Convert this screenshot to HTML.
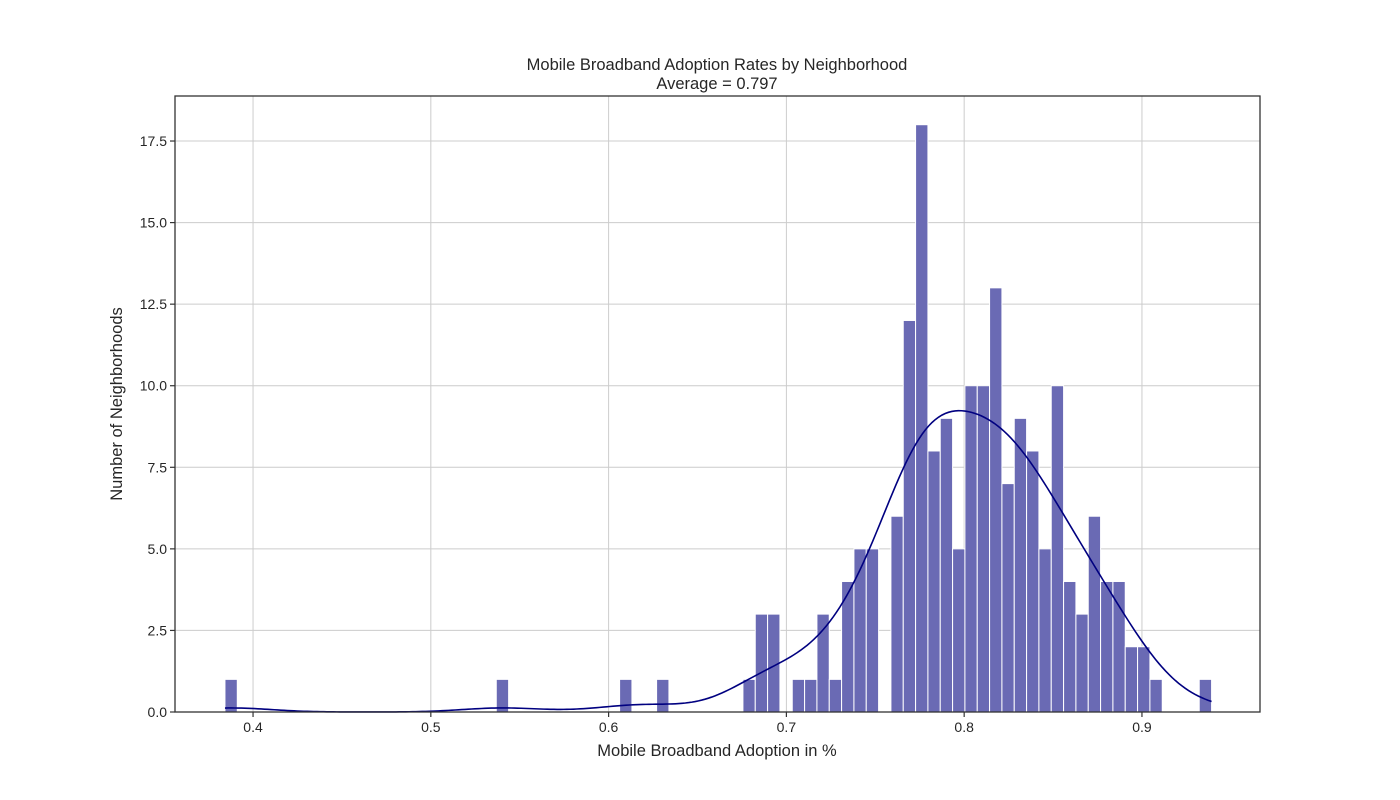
<!DOCTYPE html>
<html><head><meta charset="utf-8"><style>
body{margin:0;background:#fff;}
svg{display:block;font-family:"Liberation Sans",sans-serif;}
</style></head><body>
<svg id="chart" width="1400" height="800"></svg>
<script>
const binStart = 0.3842;
const binWidth = 0.006937;
const counts = [1,0,0,0,0,0,0,0,0,0, 0,0,0,0,0,0,0,0,0,0, 0,0,1,0,0,0,0,0,0,0, 0,0,1,0,0,1,0,0,0,0, 0,0,1,3,3,0,1,1,3,1, 4,5,5,0,6,12,18,8,9,5, 10,10,13,7,9,8,5,10,4,3, 6,4,4,2,2,1,0,0,0,1];
const xTicks = [0.4,0.5,0.6,0.7,0.8,0.9];
const yTicks = [0,2.5,5,7.5,10,12.5,15,17.5];

const L=175,R=1260,T=96,B=712;
const xMin=0.3561,xMax=0.9664,yMin=0,yMax=18.88;
const sx=v=>L+(v-xMin)/(xMax-xMin)*(R-L);
const sy=v=>B-(v-yMin)/(yMax-yMin)*(B-T);
const NS="http://www.w3.org/2000/svg";
const svg=document.getElementById('chart');
function mk(tag,attrs,parent){const e=document.createElementNS(NS,tag);for(const k in attrs)e.setAttribute(k,attrs[k]);(parent||svg).appendChild(e);return e;}

const grid=mk('g',{});


xTicks.forEach(t=>{mk('line',{x1:sx(t),x2:sx(t),y1:T,y2:B,stroke:'#cccccc','stroke-width':1},grid);});
yTicks.forEach(t=>{mk('line',{x1:L,x2:R,y1:sy(t),y2:sy(t),stroke:'#cccccc','stroke-width':1},grid);});

const bars=mk('g',{});


counts.forEach((c,i)=>{
  if(!c)return;
  const x0=sx(binStart+i*binWidth),x1=sx(binStart+(i+1)*binWidth);
  const r=mk('rect',{x:x0,y:sy(c),width:x1-x0,height:sy(0)-sy(c),fill:'#6a6ab4',stroke:'#ffffff','stroke-width':1},bars);
  
  
});

(function(){
  const pts=[];counts.forEach((c,i)=>{for(let k=0;k<c;k++)pts.push(binStart+(i+0.5)*binWidth);});
  const n=pts.length,mean=pts.reduce((a,b)=>a+b,0)/n;
  const sd=Math.sqrt(pts.reduce((a,b)=>a+(b-mean)**2,0)/(n-1));
  const bw=sd*Math.pow(n,-0.2);
  let lo=Math.min(...pts)-binWidth/2,hi=Math.max(...pts)+binWidth/2;
  let d='';
  for(let j=0;j<=300;j++){
    const x=lo+(hi-lo)*j/300;let s=0;
    pts.forEach(p=>{const z=(x-p)/bw;s+=Math.exp(-0.5*z*z);});
    const dens=s/(n*bw*Math.sqrt(2*Math.PI));
    const y=dens*n*binWidth;
    d+=(j?'L':'M')+sx(x).toFixed(2)+','+sy(y).toFixed(2);
  }
  const p=mk('path',{d:d,fill:'none',stroke:'#000080','stroke-width':1.6});
  
  
})();

const fr=mk('rect',{x:L,y:T,width:R-L,height:B-T,fill:'none',stroke:'#333333','stroke-width':1.3});



const xt=mk('g',{});


xTicks.forEach(t=>{
  mk('line',{x1:sx(t),x2:sx(t),y1:B,y2:B+5,stroke:'#333','stroke-width':1.2},xt);
  const tx=mk('text',{x:sx(t),y:B+20,'text-anchor':'middle','font-size':14,fill:'#262626'},xt);
  tx.textContent=String(t);
  
  
});
const yt=mk('g',{});


yTicks.forEach(t=>{
  mk('line',{x1:L-5,x2:L,y1:sy(t),y2:sy(t),stroke:'#333','stroke-width':1.2},yt);
  const tx=mk('text',{x:L-8,y:sy(t)+5,'text-anchor':'end','font-size':14,fill:'#262626'},yt);
  tx.textContent=t.toFixed(1);
  
  
});

const t1=mk('text',{x:717,y:70,'text-anchor':'middle','font-size':16.5,fill:'#262626'});
t1.textContent='Mobile Broadband Adoption Rates by Neighborhood';


const t2=mk('text',{x:717,y:89,'text-anchor':'middle','font-size':16.5,fill:'#262626'});
t2.textContent='Average = 0.797';


const xl=mk('text',{x:717,y:756,'text-anchor':'middle','font-size':16.5,fill:'#262626'});
xl.textContent='Mobile Broadband Adoption in %';


const yl=mk('text',{x:0,y:0,'text-anchor':'middle','font-size':16.5,fill:'#262626',transform:'translate(122,404) rotate(-90)'});
yl.textContent='Number of Neighborhoods';


</script>
</body></html>
